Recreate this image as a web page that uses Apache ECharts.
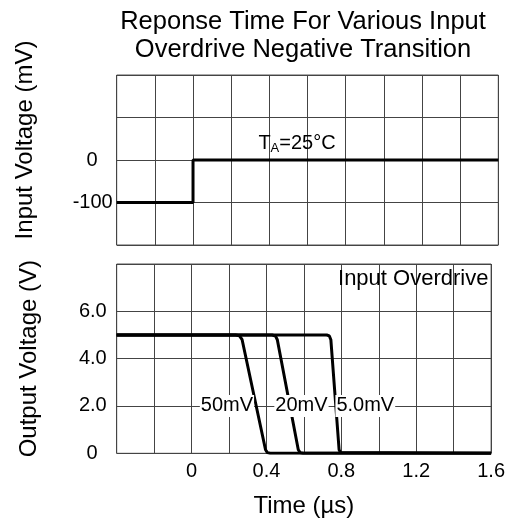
<!DOCTYPE html>
<html>
<head>
<meta charset="utf-8">
<script src="https://cdn.jsdelivr.net/npm/echarts@6/dist/echarts.min.js"></script>
<style>
html,body{margin:0;padding:0;background:#fff;}
#chart{width:508px;height:521px;}
</style>
</head>
<body>
<div id="chart"></div>
<script>
// ---- data ----
var inputTime = [-0.4, 0, 0, 1.6];
var inputMv = [-100, -100, 0, 0];

var t50 = [-0.4, 0.235, 0.255, 0.27, 0.395, 0.405, 0.42, 1.6];
var v50 = [5, 5, 4.97, 4.8, 0.15, 0.03, 0, 0];
var t20 = [-0.4, 0.43, 0.448, 0.458, 0.57, 0.58, 0.596, 1.6];
var v20 = [5, 5, 4.96, 4.8, 0.15, 0.03, 0, 0];
var t5 = [-0.4, 0.722, 0.736, 0.744, 0.788, 0.796, 0.806, 1.6];
var v5 = [5, 5, 4.96, 4.8, 0.15, 0.03, 0, 0];

var seriesNames = ['50mV', '20mV', '5.0mV'];
var timeTicks = ['0', '0.4', '0.8', '1.2', '1.6'];
var outTicks = ['0', '2.0', '4.0', '6.0'];
var inTicks = ['0', '-100'];

function zip(a, b) { return a.map(function (x, i) { return [x, b[i]]; }); }

var FONT = '"Liberation Sans", Arial, sans-serif';
var GRIDC = '#444';
var TICKFS = 20;

var chart = echarts.init(document.getElementById('chart'));

function xLabel(v) {
  var k = Math.round(v / 0.2);
  if (k < 0 || k % 2) return '';
  var s = (k * 0.2).toFixed(1);
  if (s === '0.0') s = '0';
  return timeTicks.indexOf(s) >= 0 ? s : '';
}

var lineStyle = { color: '#000', width: 3 };

var option = {
  animation: false,
  backgroundColor: '#fff',
  title: {
    text: 'Reponse Time For Various Input\nOverdrive Negative Transition',
    left: 303,
    top: 8,
    padding: 0,
    textAlign: 'center',
    textStyle: { fontFamily: FONT, fontSize: 25.5, fontWeight: 'normal', color: '#000', lineHeight: 28 }
  },
  grid: [
    { left: 116.7, right: 9.7, top: 75, height: 170, show: true, borderColor: '#555', borderWidth: 1 },
    { left: 116.7, right: 9.7, top: 264, height: 189.3, show: true, borderColor: '#555', borderWidth: 1 }
  ],
  xAxis: [
    {
      gridIndex: 0, type: 'value', min: -0.4, max: 1.6, interval: 0.2,
      axisLine: { show: false }, axisTick: { show: false }, axisLabel: { show: false },
      splitLine: { show: true, lineStyle: { color: GRIDC, width: 1 } }
    },
    {
      gridIndex: 1, type: 'value', min: -0.4, max: 1.6, interval: 0.2,
      axisLine: { show: false }, axisTick: { show: false },
      axisLabel: { show: true, formatter: xLabel, margin: 8, fontFamily: FONT, fontSize: TICKFS, color: '#000', showMaxLabel: true },
      splitLine: { show: true, lineStyle: { color: GRIDC, width: 1 } },
      name: 'Time (µs)', nameLocation: 'middle', nameGap: 41,
      nameTextStyle: { fontFamily: FONT, fontSize: 24, color: '#000' }
    }
  ],
  yAxis: [
    {
      gridIndex: 0, type: 'value', min: -200, max: 200, interval: 100,
      axisLine: { show: false }, axisTick: { show: false },
      axisLabel: {
        margin: 4, fontFamily: FONT, fontSize: TICKFS, color: '#000',
        formatter: function (v) {
          var s = String(v);
          if (inTicks.indexOf(s) < 0) return '';
          return s === '0' ? '{z|0}' : s;
        },
        rich: { z: { fontFamily: FONT, fontSize: TICKFS, color: '#000', padding: [0, 15, 0, 0] } }
      },
      splitLine: { show: true, lineStyle: { color: GRIDC, width: 1 } },
      name: 'Input Voltage (mV)', nameLocation: 'middle', nameGap: 79,
      nameTextStyle: { fontFamily: FONT, fontSize: 24, color: '#000', padding: [0, 0, 0, 40] }
    },
    {
      gridIndex: 1, type: 'value', min: 0, max: 8, interval: 2,
      axisLine: { show: false }, axisTick: { show: false },
      axisLabel: {
        margin: 10, fontFamily: FONT, fontSize: TICKFS, color: '#000',
        formatter: function (v) {
          var s = v === 0 ? '0' : v.toFixed(1);
          if (outTicks.indexOf(s) < 0) return '';
          return s === '0' ? '{z|0}' : s;
        },
        rich: { z: { fontFamily: FONT, fontSize: TICKFS, color: '#000', padding: [0, 9, 0, 0] } }
      },
      splitLine: { show: true, lineStyle: { color: GRIDC, width: 1 } },
      name: 'Output Voltage (V)', nameLocation: 'middle', nameGap: 75,
      nameTextStyle: { fontFamily: FONT, fontSize: 24, color: '#000' }
    }
  ],
  series: [
    {
      type: 'line', xAxisIndex: 0, yAxisIndex: 0, data: zip(inputTime, inputMv),
      showSymbol: false, lineStyle: lineStyle, z: 3,
      markPoint: {
        symbol: 'circle', symbolSize: 0, silent: true,
        label: {
          show: true, position: 'inside', color: '#000',
          formatter: '{t|T}{s|A}{t|=25°C}',
          rich: {
            t: { fontFamily: FONT, fontSize: 20, color: '#000', lineHeight: 24, verticalAlign: 'middle' },
            s: { fontFamily: FONT, fontSize: 13, color: '#000', lineHeight: 24, verticalAlign: 'bottom', padding: [6, 0, 0, 0] }
          }
        },
        data: [{ coord: [0.545, 40] }]
      }
    },
    {
      type: 'line', xAxisIndex: 1, yAxisIndex: 1, name: seriesNames[0], data: zip(t50, v50),
      showSymbol: false, lineStyle: lineStyle, z: 3
    },
    {
      type: 'line', xAxisIndex: 1, yAxisIndex: 1, name: seriesNames[1], data: zip(t20, v20),
      showSymbol: false, lineStyle: lineStyle, z: 3
    },
    {
      type: 'line', xAxisIndex: 1, yAxisIndex: 1, name: seriesNames[2], data: zip(t5, v5),
      showSymbol: false, lineStyle: lineStyle, z: 3,
      markPoint: {
        symbol: 'circle', symbolSize: 0, silent: true, z: 10,
        label: {
          show: true, position: 'inside', color: '#000', fontFamily: FONT, fontSize: 20,
          backgroundColor: '#fff', padding: [1, 1, 1, 1],
          formatter: function (p) { return p.name; }
        },
        data: [
          { name: seriesNames[0], coord: [0.189, 2] },
          { name: seriesNames[1], coord: [0.587, 2] },
          { name: seriesNames[2], coord: [0.928, 2] },
          { name: 'Input Overdrive', coord: [1.184, 7.35], label: { backgroundColor: 'transparent', fontSize: 22 } }
        ]
      }
    }
  ]
};
chart.setOption(option);
</script>
</body>
</html>
